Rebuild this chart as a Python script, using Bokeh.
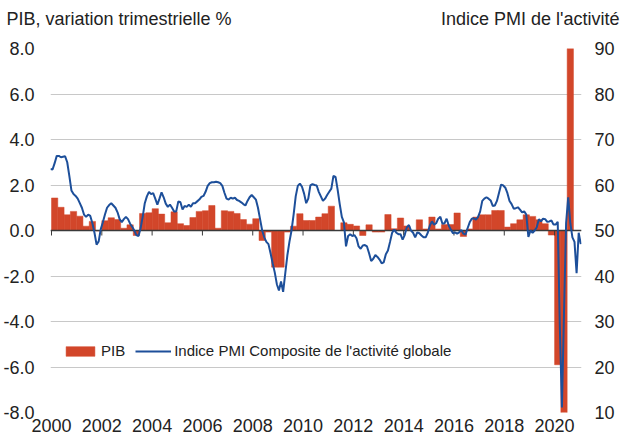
from bokeh.plotting import figure
from bokeh.models import Range1d, LinearAxis, FixedTicker, Label, Legend, LegendItem
from bokeh.embed import file_html
from bokeh.resources import INLINE

# ---------------- data ----------------
year_ticks = [2000, 2002, 2004, 2006, 2008, 2010, 2012, 2014, 2016, 2018, 2020]
year_labels = ["2000", "2002", "2004", "2006", "2008", "2010", "2012", "2014", "2016", "2018", "2020"]
gdp_ticks = [-8, -6, -4, -2, 0, 2, 4, 6, 8]
gdp_tick_labels = ["-8.0", "-6.0", "-4.0", "-2.0", "0.0", "2.0", "4.0", "6.0", "8.0"]
pmi_ticks = [10, 20, 30, 40, 50, 60, 70, 80, 90]
pmi_tick_labels = ["10", "20", "30", "40", "50", "60", "70", "80", "90"]

title_left = "PIB, variation trimestrielle %"
title_right = "Indice PMI de l'activité"
label_gdp = "PIB"
label_pmi = "Indice PMI Composite de l'activité globale"

# Quarterly GDP growth, 2000Q1 .. 2020Q3
gdp_first_year = 2000
gdp_2000_2004 = [1.43, 1.02, 0.69, 0.84, 0.63, 0.19, 0.40, -0.02, 0.43, 0.56, 0.48, 0.10,
                 0.25, -0.22, 0.75, 0.78, 0.96, 0.72, 0.34, 0.82]
gdp_2005_2009 = [0.30, 0.22, 0.57, 0.84, 0.87, 1.10, 0.10, 0.87, 0.84, 0.75, 0.48, 0.28,
                 0.52, -0.44, -0.07, -1.61, -1.61, -0.07, 0.19, 0.74]
gdp_2010_2014 = [0.44, 0.44, 0.59, 0.74, 1.07, 0.00, 0.34, 0.27, 0.20, -0.22, 0.25, -0.07,
                 -0.07, 0.70, 0.08, 0.55, 0.20, 0.00, 0.47, 0.07]
gdp_2015_2019 = [0.59, 0.07, 0.26, 0.26, 0.77, -0.26, 0.07, 0.59, 0.69, 0.69, 0.88, 0.88,
                 0.15, 0.30, 0.47, 0.69, 0.62, 0.47, 0.30, -0.20]
gdp_2020 = [-5.90, -13.80, 18.70]

# Monthly composite PMI, Dec 1999 .. Jan 2021
pmi_first_year, pmi_first_month = 1999, 12
pmi_1999 = [63.5]
pmi_2000 = [63.4, 64.8, 66.4, 66.4, 66.1, 66.2, 66.3, 65.0, 62.0, 58.8, 58.0, 57.6]
pmi_2001 = [57.0, 56.0, 55.0, 53.5, 53.0, 53.5, 53.2, 51.6, 49.5, 46.9, 47.6, 50.3]
pmi_2002 = [51.8, 53.5, 55.0, 55.6, 56.0, 55.5, 55.0, 54.0, 52.5, 51.8, 52.5, 53.0]
pmi_2003 = [52.5, 51.5, 50.8, 50.0, 49.0, 48.8, 50.5, 53.0, 56.0, 57.5, 58.5, 58.0]
pmi_2004 = [58.2, 57.0, 55.7, 57.0, 58.4, 57.3, 55.9, 55.2, 55.7, 55.0, 54.2, 54.2]
pmi_2005 = [56.4, 56.2, 54.6, 55.4, 55.2, 55.7, 55.2, 56.0, 56.0, 56.4, 56.8, 57.4]
pmi_2006 = [57.6, 58.5, 59.8, 60.4, 60.6, 60.6, 60.7, 60.6, 60.4, 59.8, 58.3, 57.0]
pmi_2007 = [56.8, 57.2, 57.0, 57.2, 56.7, 56.5, 56.2, 55.8, 55.5, 56.5, 57.3, 57.8]
pmi_2008 = [57.3, 56.8, 55.0, 52.5, 50.0, 48.5, 47.5, 47.0, 45.0, 42.8, 40.8, 38.2]
pmi_2009 = [36.8, 38.8, 36.5, 40.5, 44.5, 47.5, 50.0, 53.5, 57.5, 59.8, 60.3, 59.6]
pmi_2010 = [58.1, 56.0, 57.0, 59.9, 60.2, 60.0, 59.9, 58.5, 57.5, 56.5, 57.0, 57.8]
pmi_2011 = [58.5, 59.2, 62.0, 61.8, 59.0, 55.8, 53.0, 51.8, 46.5, 48.8, 49.2, 48.8]
pmi_2012 = [49.0, 48.3, 46.5, 46.0, 46.7, 46.8, 46.5, 45.0, 43.3, 43.8, 44.6, 44.2]
pmi_2013 = [43.6, 42.8, 43.0, 44.8, 45.6, 47.5, 49.5, 50.2, 49.5, 49.2, 49.2, 48.0]
pmi_2014 = [49.0, 50.7, 51.2, 50.0, 49.5, 48.5, 49.6, 49.4, 48.9, 48.5, 48.5, 49.5]
pmi_2015 = [51.1, 52.0, 51.3, 51.6, 52.6, 53.0, 51.5, 51.6, 52.6, 51.1, 50.2, 49.4]
pmi_2016 = [49.6, 49.3, 49.6, 50.1, 49.3, 49.1, 50.5, 51.8, 52.6, 52.7, 52.4, 53.0]
pmi_2017 = [54.2, 56.5, 57.0, 57.3, 57.0, 56.6, 55.4, 55.5, 56.5, 58.3, 60.1, 59.9]
pmi_2018 = [59.4, 58.2, 56.5, 55.8, 54.8, 54.9, 55.1, 54.6, 54.0, 54.2, 53.5, 48.6]
pmi_2019 = [50.0, 49.5, 50.0, 50.7, 52.5, 52.0, 52.6, 52.5, 51.9, 52.0, 52.2, 51.3]
pmi_2020 = [51.3, 51.9, 28.9, 11.1, 32.1, 51.7, 57.3, 51.6, 48.5, 47.5, 40.6, 49.5]
pmi_2021 = [47.0]

# ---------------- build ----------------
gdp = gdp_2000_2004 + gdp_2005_2009 + gdp_2010_2014 + gdp_2015_2019 + gdp_2020
gdp_x = [gdp_first_year + (i + 0.5) / 4 for i in range(len(gdp))]

pmi = (pmi_1999 + pmi_2000 + pmi_2001 + pmi_2002 + pmi_2003 + pmi_2004 + pmi_2005 +
       pmi_2006 + pmi_2007 + pmi_2008 + pmi_2009 + pmi_2010 + pmi_2011 + pmi_2012 +
       pmi_2013 + pmi_2014 + pmi_2015 + pmi_2016 + pmi_2017 + pmi_2018 + pmi_2019 +
       pmi_2020 + pmi_2021)
pmi_x = [pmi_first_year + (pmi_first_month - 1 + i + 0.5) / 12 for i in range(len(pmi))]

RED = "#D2462A"
BLUE = "#1D4F9A"
TXT = "#222222"
FONT = "Liberation Sans"
GRID = "#C8C8C8"

X0, X1 = 1999.96, 2021.07
p = figure(frame_width=531, frame_height=364,
           x_range=Range1d(X0, X1), y_range=Range1d(-8, 8),
           output_backend="svg", toolbar_location=None,
           min_border_left=46, min_border_right=40, min_border_top=48, min_border_bottom=27,
           background_fill_color="white", border_fill_color="white", outline_line_color=None)
p.extra_y_ranges = {"pmi": Range1d(10, 90)}

def style_axis(ax, standoff):
    ax.axis_line_color = None
    ax.major_tick_line_color = None
    ax.minor_tick_line_color = None
    ax.major_tick_out = 0
    ax.major_tick_in = 0
    ax.major_label_standoff = standoff
    ax.major_label_text_font = FONT
    ax.major_label_text_font_size = "18px"
    ax.major_label_text_color = TXT

p.yaxis.ticker = FixedTicker(ticks=gdp_ticks)
p.yaxis.major_label_overrides = dict(zip(gdp_ticks, gdp_tick_labels))
style_axis(p.yaxis[0], 16)

p.xaxis.ticker = FixedTicker(ticks=year_ticks)
p.xaxis.major_label_overrides = dict(zip(year_ticks, year_labels))
style_axis(p.xaxis[0], 6)

rax = LinearAxis(y_range_name="pmi", ticker=FixedTicker(ticks=pmi_ticks))
rax.major_label_overrides = dict(zip(pmi_ticks, pmi_tick_labels))
style_axis(rax, 13)
p.add_layout(rax, "right")

p.xgrid.visible = False
p.ygrid.ticker = FixedTicker(ticks=gdp_ticks)
p.ygrid.grid_line_color = GRID
p.ygrid.grid_line_width = 1

bars = p.vbar(x=gdp_x, width=0.25, top=gdp, bottom=0,
              fill_color=RED, line_color=RED, line_width=0.5)
p.hspan(y=[0], line_color="#3A3A3A", line_width=1.5)
p.segment(x0=year_ticks, y0=[0] * len(year_ticks), x1=year_ticks, y1=[-0.22] * len(year_ticks),
          line_color="#3A3A3A", line_width=1)
line = p.line(x=pmi_x, y=pmi, y_range_name="pmi", line_color=BLUE, line_width=2)

legend = Legend(items=[LegendItem(label=label_gdp, renderers=[bars]),
                       LegendItem(label=label_pmi, renderers=[line])],
                orientation="horizontal", location=(12, 53),
                glyph_width=36, glyph_height=12, label_standoff=3, spacing=10,
                padding=0, margin=0, border_line_color=None, background_fill_alpha=0,
                label_text_font=FONT, label_text_font_size="15px", label_text_color=TXT)
p.add_layout(legend)

# axis titles above the frame (side panel, so they are not clipped)
px_per_year = 531 / (X1 - X0)
px_per_unit = 364 / 16
title_y = 8 + 29.3 / px_per_unit
p.add_layout(Label(x=X0 - 44 / px_per_year, y=title_y, text=title_left,
                   text_baseline="middle", text_align="left",
                   text_font=FONT, text_font_size="18px", text_color=TXT), "above")
p.add_layout(Label(x=X0 + 569 / px_per_year, y=title_y, text=title_right,
                   text_baseline="middle", text_align="right",
                   text_font=FONT, text_font_size="18px", text_color=TXT), "above")

open("out.html", "w").write(file_html(p, INLINE))
